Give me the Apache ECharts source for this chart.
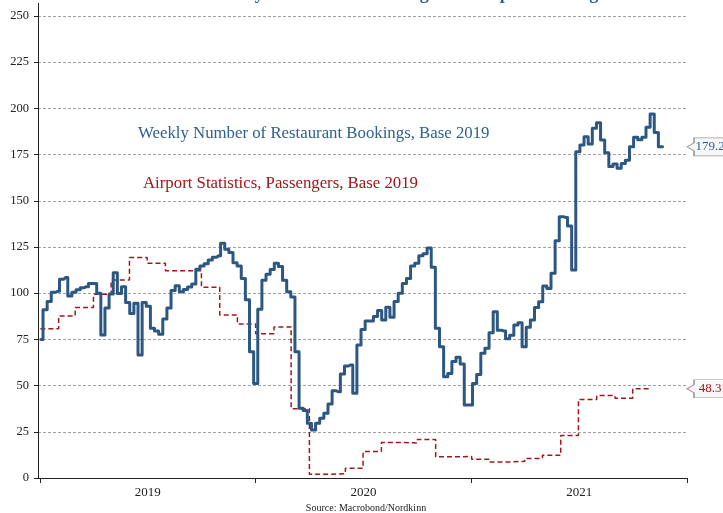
<!DOCTYPE html>
<html>
<head>
<meta charset="utf-8">
<title>Restaurant bookings and airport passengers</title>
<script src="https://cdn.jsdelivr.net/npm/echarts@6.0.0/dist/echarts.min.js"></script>
<style>
  html, body { margin: 0; padding: 0; background: #fff; }
  #chart { width: 723px; height: 513px; }
</style>
</head>
<body>
<div id="chart"></div>
<script>
// Weekly number of restaurant bookings (index, 2019 = 100), first week starting 2019-01-02
const bookingStart = Date.UTC(2019, 0, 2);
const bookingValues = [
  75, 91, 95.5, 100.5, 101, 107.5, 108.5, 98.5, 100.5, 101.8,
  103, 103.5, 105.3, 105.3, 100, 77.4, 92, 99.6, 111, 99.8,
  103.5, 95, 89, 94.5, 66.5, 95, 93, 81, 79.6, 77.8,
  86, 92, 101.4, 104, 100.8, 102, 103.3, 105, 113, 114.7,
  116, 118, 119.5, 120.2, 127, 123.8, 122, 116.5, 114.7, 108,
  96.5, 68.3, 51.2, 91.3, 107, 110.3, 112.8, 116.2, 114.4, 107,
  100.8, 98, 68.3, 37.7, 36.5, 29.6, 26, 29.6, 32.3, 35,
  40, 47.2, 46.7, 56.3, 60.6, 61.2, 45.8, 72, 80.4, 85,
  85, 87.4, 90.6, 85.5, 92.4, 87, 95.5, 100, 105.3, 108,
  114.7, 116.2, 120.2, 121.3, 124.5, 114, 81, 71, 54.8, 56.5,
  63, 65.3, 61.7, 39.5, 39.5, 51.2, 56, 67.5, 70.2, 78.6,
  90, 80, 79.6, 75.4, 77.2, 82.8, 84, 71, 81.6, 85.5,
  92.3, 95.4, 103.9, 102.6, 110.8, 128.4, 141.4, 141, 136.4, 112.5,
  176.6, 180.2, 184.7, 180.7, 189.2, 192.3, 182.9, 176, 168.5, 169.9,
  167.6, 170.2, 172, 179.3, 184.4, 183, 184.4, 189.8, 197, 187,
  179.2
];

// Monthly airport passengers (index, 2019 = 100), January 2019 to October 2021
const airportStart = { year: 2019, month: 0 };
const airport2019 = [80.8, 87.7, 92.3, 99.4, 107.1, 119.3, 116.2, 112.2, 112.2, 103.2, 88.2, 83.3];
const airport2020 = [78.1, 81.7, 37.5, 2.0, 2.3, 5.3, 14.3, 19.2, 19.0, 20.9, 11.5, 11.6];
const airport2021 = [10.1, 8.6, 9.0, 10.6, 12.3, 23.0, 42.5, 44.6, 43.2, 48.3];

const yearLabels = ['2019', '2020', '2021'];
const yMin = 0, yMax = 250, yStep = 25;
const xStart = Date.UTC(2018, 11, 28);
const xEnd = Date.UTC(2022, 0, 1);

const seriesNames = {
  bookings: 'Weekly Number of Restaurant Bookings, Base 2019',
  airport: 'Airport Statistics, Passengers, Base 2019'
};
const BLUE = '#2c5783';
const BLUE_TEXT = '#30608f';
const RED = '#a3161a';
const SERIF = '"Liberation Serif", "DejaVu Serif", serif';

const DAY = 86400000;
const bookingData = bookingValues.map((v, i) => [bookingStart + i * 7 * DAY, v]);
// close the last week half a week after its point
bookingData.push([bookingStart + (bookingValues.length - 1) * 7 * DAY + 3.5 * DAY, bookingValues[bookingValues.length - 1]]);

const airportValues = airport2019.concat(airport2020, airport2021);
const airportData = airportValues.map((v, i) => [Date.UTC(airportStart.year, airportStart.month + i, 1), v]);
airportData.push([Date.UTC(airportStart.year, airportStart.month + airportValues.length, 1), airportValues[airportValues.length - 1]]);

// value tag shape: pointer on the left, box to the right
const tagPath = 'path://M0,9 L7,5 L7,0 L50,0 L50,18 L7,18 L7,13 Z';
function valueTag(value, color) {
  return {
    silent: true,
    symbol: tagPath,
    symbolSize: [50, 18],
    symbolKeepAspect: false,
    symbolOffset: [25, 0],
    itemStyle: { color: '#f7f7f7', borderColor: '#9a9a9a', borderWidth: 1 },
    label: {
      show: true,
      position: 'inside',
      offset: [-2, 0],
      formatter: String(value),
      color: color,
      fontFamily: SERIF,
      fontSize: 13
    },
    data: [{ coord: [xEnd, value], value: value }]
  };
}

const chart = echarts.init(document.getElementById('chart'), null, { renderer: 'canvas' });
chart.setOption({
  animation: false,
  backgroundColor: '#ffffff',
  grid: [
    { left: 38, right: 36, top: 16, bottom: 35 },
    { left: 40, right: 36, top: 477, bottom: 35 }
  ],
  xAxis: [
    {
      type: 'time', gridIndex: 0, min: xStart, max: xEnd,
      axisLine: { show: true, lineStyle: { color: '#222', width: 1 } },
      axisTick: { show: false },
      axisLabel: { show: false },
      splitLine: { show: false }
    },
    {
      type: 'category', gridIndex: 1, data: yearLabels, boundaryGap: true,
      axisLine: { show: false },
      axisTick: { show: true, interval: 0, length: 5, inside: false, lineStyle: { color: '#222', width: 1 } },
      axisLabel: { show: true, interval: 0, margin: 8, color: '#222', fontFamily: SERIF, fontSize: 13 },
      splitLine: { show: false }
    }
  ],
  yAxis: [
    {
      type: 'value', gridIndex: 0, min: yMin, max: yMax, interval: yStep,
      axisLine: { show: true, lineStyle: { color: '#222', width: 1 } },
      axisTick: { show: true, length: 4, lineStyle: { color: '#222' } },
      axisLabel: { color: '#222', fontFamily: SERIF, fontSize: 12.5, margin: 9 },
      splitLine: { show: true, lineStyle: { color: '#a0a0a0', type: [3, 2], width: 1 } }
    },
    {
      type: 'value', gridIndex: 1, show: false
    }
  ],
  series: [
    {
      name: seriesNames.airport,
      type: 'line',
      xAxisIndex: 0, yAxisIndex: 0,
      step: 'end',
      showSymbol: false,
      data: airportData,
      lineStyle: { color: RED, width: 1.5, type: [5, 3] },
      markPoint: valueTag(airportValues[airportValues.length - 1], RED),
      z: 2
    },
    {
      name: seriesNames.bookings,
      type: 'line',
      xAxisIndex: 0, yAxisIndex: 0,
      step: 'middle',
      showSymbol: false,
      data: bookingData,
      lineStyle: { color: BLUE, width: 3, join: 'round', cap: 'round' },
      markPoint: valueTag(bookingValues[bookingValues.length - 1], BLUE_TEXT),
      z: 3
    }
  ],
  graphic: [
    {
      // the value axis line continues a little above its top tick
      type: 'line', silent: true,
      shape: { x1: 38.5, y1: 3, x2: 38.5, y2: 16 },
      style: { stroke: '#222', lineWidth: 1 }
    },
    {
      type: 'text', left: 138, top: 125,
      style: { text: seriesNames.bookings, fill: BLUE_TEXT, font: '16.8px ' + SERIF }
    },
    {
      type: 'text', left: 143, top: 175,
      style: { text: seriesNames.airport, fill: RED, font: '16.8px ' + SERIF }
    },
    {
      type: 'text', x: 412, y: 3,
      style: {
        text: 'Norway: Restaurant Bookings and Airport Passengers',
        fill: BLUE_TEXT, font: 'bold 18px ' + SERIF,
        textAlign: 'center', textVerticalAlign: 'bottom'
      }
    },
    {
      type: 'text', x: 366, y: 508,
      style: {
        text: 'Source: Macrobond/Nordkinn', fill: '#222', font: '10px ' + SERIF,
        textAlign: 'center', textVerticalAlign: 'middle'
      }
    }
  ]
});
</script>
</body>
</html>
